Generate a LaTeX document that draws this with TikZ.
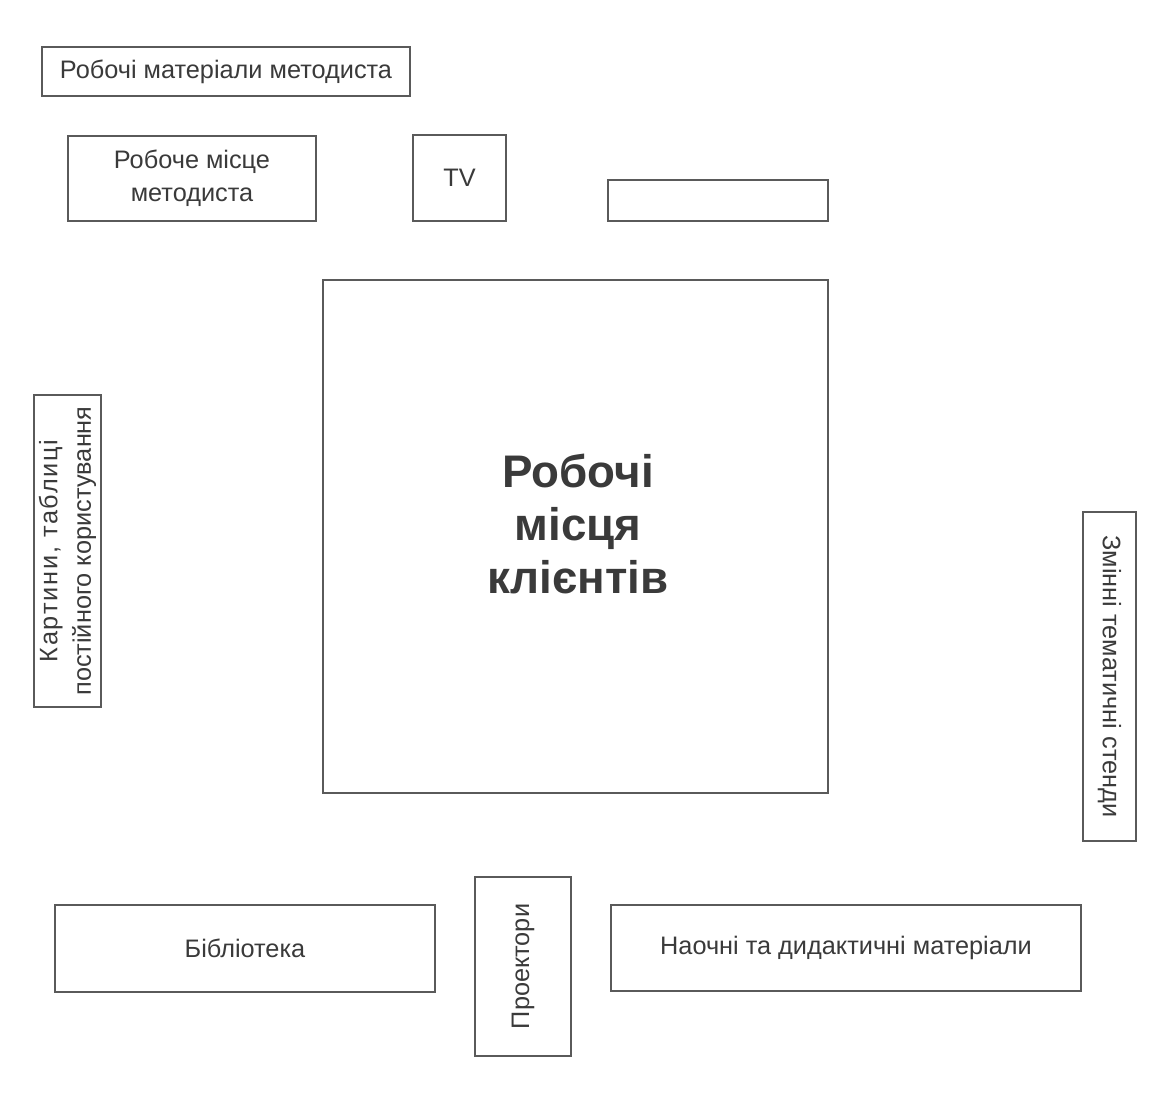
\documentclass[tikz,border=0pt]{standalone}
\usepackage{fontspec}
\setmainfont{Liberation Sans}
\usepackage{tikz}
\usetikzlibrary{positioning}

\definecolor{inkgray}{HTML}{3A3A3A}
\definecolor{linegray}{HTML}{5A5A5A}

\begin{document}
\begin{tikzpicture}[
    furn/.style={draw=linegray, line width=0.7pt, rectangle, inner sep=1pt,
        text=inkgray, font=\fontsize{7.2}{9.5}\selectfont, align=center},
    biglabel/.style={text=inkgray, align=center, font=\bfseries\fontsize{13}{15}\selectfont}]

    \useasboundingbox (0,0) rectangle (11.64,-11.09);

    % top row
    \node[furn, minimum width=3.68cm, minimum height=0.49cm] (mat) at (2.26,-0.715) {Робочі матеріали методиста};
    \node[furn, minimum width=2.48cm, minimum height=0.85cm] (desk) at (1.92,-1.785) {Робоче місце\\методиста};
    \node[furn, minimum width=0.93cm, minimum height=0.86cm] (tv) at (4.595,-1.78) {TV};
    \node[furn, minimum width=2.20cm, minimum height=0.41cm] (shelf) at (7.18,-2.005) {};

    % middle
    \node[furn, minimum width=5.05cm, minimum height=5.13cm] (clients) at (5.755,-5.365) {};
    \node[biglabel] (clientslbl) at (5.78,-5.24) {Робочі\\місця\\клієнтів};
    \node[furn, rotate=90, minimum width=3.12cm, minimum height=0.67cm] (pics) at (0.675,-5.51)
        {{\addfontfeature{LetterSpace=7}Картини, таблиці}\\постійного користування};
    \node[furn, rotate=-90, minimum width=3.29cm, minimum height=0.53cm] (stands) at (11.095,-6.765) {Змінні тематичні стенди};

    % bottom row
    \node[furn, minimum width=3.80cm, minimum height=0.87cm] (lib) at (2.45,-9.485) {Бібліотека};
    \node[furn, rotate=90, minimum width=1.79cm, minimum height=0.96cm] (proj) at (5.23,-9.665) {Проектори};
    \node[furn, minimum width=4.70cm, minimum height=0.86cm] (didact) at (8.46,-9.48) {Наочні та дидактичні матеріали};
\end{tikzpicture}
\end{document}
